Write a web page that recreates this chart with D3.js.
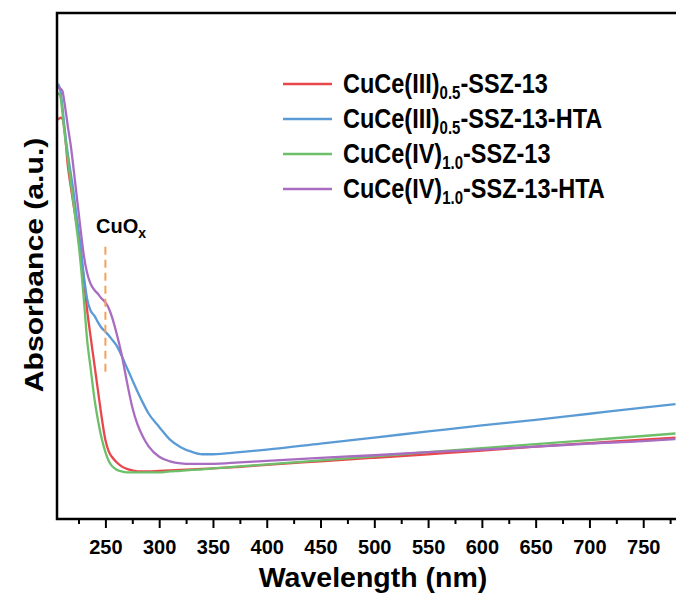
<!DOCTYPE html>
<html>
<head>
<meta charset="utf-8">
<script src="https://cdn.jsdelivr.net/npm/d3@7"></script>
<style>
  html, body { margin: 0; padding: 0; background: #fff; }
  svg { display: block; font-family: "Liberation Sans", Arial, sans-serif; }
</style>
</head>
<body>
<svg id="chart" width="676" height="595"></svg>
<script>
// UV-vis diffuse reflectance spectra (arbitrary absorbance units)
const wavelengths = [206, 208, 210, 212, 215, 218, 220, 223, 226, 230, 233, 236, 240, 243, 246, 250,
  253, 256, 260, 265, 270, 275, 280, 285, 290, 300, 310, 320, 330, 340, 350, 375, 400, 450, 500,
  550, 600, 650, 700, 750, 780];

const cuCeIII = [0.789, 0.793, 0.791, 0.769, 0.700, 0.654, 0.626, 0.587, 0.547, 0.472, 0.413, 0.364,
  0.302, 0.255, 0.209, 0.156, 0.134, 0.123, 0.113, 0.104, 0.099, 0.096, 0.094, 0.094, 0.094, 0.095,
  0.096, 0.097, 0.098, 0.099, 0.100, 0.103, 0.107, 0.114, 0.121, 0.128, 0.135, 0.143, 0.150, 0.157, 0.161];

const cuCeIIIHTA = [0.860, 0.848, 0.816, 0.773, 0.723, 0.680, 0.652, 0.601, 0.555, 0.480, 0.435, 0.413,
  0.401, 0.389, 0.379, 0.370, 0.363, 0.355, 0.344, 0.323, 0.299, 0.275, 0.251, 0.229, 0.209, 0.182,
  0.157, 0.142, 0.133, 0.128, 0.128, 0.132, 0.137, 0.149, 0.161, 0.173, 0.185, 0.196, 0.208, 0.220, 0.227];

const cuCeIV = [0.842, 0.836, 0.804, 0.763, 0.713, 0.662, 0.630, 0.579, 0.526, 0.433, 0.354, 0.302,
  0.235, 0.196, 0.164, 0.132, 0.115, 0.105, 0.098, 0.094, 0.092, 0.092, 0.092, 0.092, 0.092, 0.092,
  0.094, 0.095, 0.097, 0.098, 0.100, 0.104, 0.108, 0.116, 0.124, 0.132, 0.140, 0.148, 0.156, 0.164, 0.169];

const cuCeIVHTA = [0.853, 0.851, 0.846, 0.822, 0.777, 0.735, 0.700, 0.644, 0.589, 0.520, 0.486, 0.466,
  0.452, 0.445, 0.437, 0.428, 0.417, 0.400, 0.370, 0.326, 0.271, 0.221, 0.186, 0.162, 0.144, 0.123,
  0.114, 0.110, 0.109, 0.109, 0.109, 0.112, 0.115, 0.121, 0.126, 0.132, 0.137, 0.143, 0.149, 0.154, 0.158];

// legend names: [base, subscript, suffix]
const seriesNames = [
  ["CuCe(III)", "0.5", "-SSZ-13"],
  ["CuCe(III)", "0.5", "-SSZ-13-HTA"],
  ["CuCe(IV)", "1.0", "-SSZ-13"],
  ["CuCe(IV)", "1.0", "-SSZ-13-HTA"]
];
const seriesValues = [cuCeIII, cuCeIIIHTA, cuCeIV, cuCeIVHTA];
const seriesColors = ["#e8474c", "#5b9bd5", "#6dbf6a", "#a86cc1"];

const majorTicks = [250, 300, 350, 400, 450, 500, 550, 600, 650, 700, 750];
const minorTicks = [225, 275, 325, 375, 425, 475, 525, 575, 625, 675, 725, 775];

// CuOx shoulder marker: wavelength and vertical extent of the dashed guide
const cuoxWavelength = 250;
const cuoxSpan = [0.289, 0.538];

const svg = d3.select("#chart");
const W = 676, H = 595;
const plot = { left: 57, top: 13, bottom: 519, right: 697 };

svg.append("rect").attr("width", W).attr("height", H).attr("fill", "#fff");

const x = d3.scaleLinear().domain([205, 800]).range([plot.left, plot.right]);
const y = d3.scaleLinear().domain([0, 1]).range([plot.bottom, plot.top]);

// axes
const axisStyle = g => {
  g.select(".domain").remove();
  g.selectAll(".tick line").attr("stroke", "#000").attr("stroke-width", 2);
};

svg.append("g")
  .attr("transform", `translate(0,${plot.bottom})`)
  .call(d3.axisBottom(x).tickValues(minorTicks).tickSize(5).tickFormat(""))
  .call(axisStyle);

svg.append("g")
  .attr("transform", `translate(0,${plot.bottom})`)
  .call(d3.axisBottom(x).tickValues(majorTicks).tickSize(9).tickPadding(12).tickFormat(d3.format("d")))
  .call(axisStyle)
  .call(g => g.selectAll(".tick text")
    .attr("font-family", "Liberation Sans, Arial, sans-serif")
    .attr("font-size", 20).attr("font-weight", "bold").attr("fill", "#000"));

// curves
const line = d3.line()
  .x((d, i) => x(wavelengths[i]))
  .y(d => y(d))
  .curve(d3.curveMonotoneX);

seriesValues.forEach((vals, k) => {
  svg.append("path")
    .datum(vals)
    .attr("fill", "none")
    .attr("stroke", seriesColors[k])
    .attr("stroke-width", 2.3)
    .attr("stroke-linejoin", "round")
    .attr("d", line);
});

// frame
svg.append("rect")
  .attr("x", plot.left).attr("y", plot.top)
  .attr("width", plot.right - plot.left).attr("height", plot.bottom - plot.top)
  .attr("fill", "none").attr("stroke", "#000").attr("stroke-width", 2.5);

// CuOx annotation
svg.append("line")
  .attr("x1", x(cuoxWavelength)).attr("x2", x(cuoxWavelength))
  .attr("y1", y(cuoxSpan[1])).attr("y2", y(cuoxSpan[0]))
  .attr("stroke", "#f5a15a").attr("stroke-width", 2).attr("stroke-dasharray", "8,5");

const cuox = svg.append("text")
  .attr("x", 96).attr("y", 233)
  .attr("font-size", 20).attr("font-weight", "bold").attr("fill", "#000");
cuox.append("tspan").text("CuO");
cuox.append("tspan").attr("font-size", 14).attr("dy", 5).text("x");

// legend (text slightly tall-proportioned)
const legend = svg.append("g");
seriesNames.forEach((nm, k) => {
  const cy = 84 + k * 35;
  legend.append("line")
    .attr("x1", 283).attr("x2", 332).attr("y1", cy).attr("y2", cy)
    .attr("stroke", seriesColors[k]).attr("stroke-width", 2.3);
  const t = legend.append("text")
    .attr("transform", `translate(343,${cy + 9}) scale(1,1.18)`)
    .attr("font-size", 23.5).attr("font-weight", "bold").attr("fill", "#000");
  t.append("tspan").text(nm[0]);
  t.append("tspan").attr("font-size", 15).attr("dy", 5).text(nm[1]);
  t.append("tspan").attr("dy", -5).text(nm[2]);
});

// axis titles
svg.append("text")
  .attr("x", 373).attr("y", 587)
  .attr("text-anchor", "middle")
  .attr("font-size", 28.5).attr("font-weight", "bold").attr("fill", "#000")
  .text("Wavelength (nm)");

svg.append("text")
  .attr("transform", "translate(43,265) rotate(-90) scale(1.16,1)")
  .attr("text-anchor", "middle")
  .attr("font-size", 26).attr("font-weight", "bold").attr("fill", "#000")
  .text("Absorbance (a.u.)");
</script>
</body>
</html>
